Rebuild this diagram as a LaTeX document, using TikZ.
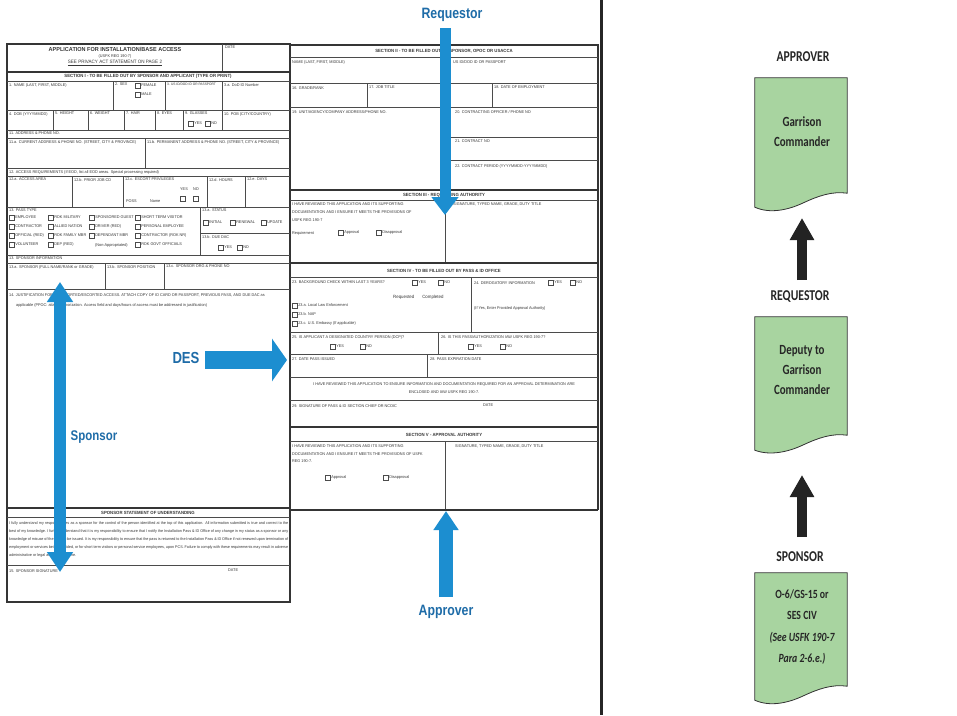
\documentclass[tikz,border=0pt]{standalone}
\usepackage{fontspec}
\setmainfont{Liberation Sans}
\newfontfamily\formfont[FakeStretch=0.95]{Liberation Sans}
\newfontfamily\lblfont[FakeStretch=0.82]{Liberation Sans}
\newfontfamily\calfont[FakeStretch=0.78]{Carlito}
\usetikzlibrary{arrows.meta}
\definecolor{formline}{RGB}{75,75,75}
\definecolor{formtext}{RGB}{55,55,55}
\definecolor{bluearrow}{RGB}{28,142,208}
\definecolor{bluetext}{RGB}{30,108,168}
\definecolor{boxgreen}{RGB}{168,212,160}
\definecolor{darkarrow}{RGB}{35,35,35}
\newcount\tcnt
\newcommand\fl[3]{\global\advance\tcnt by1 \node[ft] (f\the\tcnt) at (#1,#2) {#3};}
\newcommand\fc[3]{\global\advance\tcnt by1 \node[ftc] (f\the\tcnt) at (#1,#2) {#3};}
\newcommand\fb[3]{\global\advance\tcnt by1 \node[ftb] (f\the\tcnt) at (#1,#2) {#3};}
\newcommand\cb[3]{\global\advance\tcnt by1 \node[cbox] (c\the\tcnt) at (#1,#2) {};
  \node[ft,anchor=west] (l\the\tcnt) at ([xshift=1pt]c\the\tcnt.east) {#3};}
\tikzset{
  ft/.style={font=\formfont\fontsize{4.0}{4.6}\selectfont, text=formtext, inner sep=0pt, anchor=north west},
  ftc/.style={ft, anchor=center},
  ftb/.style={ftc, font=\formfont\bfseries\fontsize{4.5}{5}\selectfont},
  fline/.style={draw=formline, line width=0.7pt},
  fthick/.style={draw=formline!70!black, line width=1.2pt},
  cbox/.style={draw=formline, line width=0.55pt, minimum size=4.5pt, inner sep=0pt, anchor=north west},
  bluelbl/.style={font=\lblfont\bfseries\fontsize{15}{18}\selectfont, text=bluetext, inner sep=0pt},
  hdr/.style={font=\calfont\bfseries\fontsize{15}{17}\selectfont, text=black!85, inner sep=0pt},
  boxtxt/.style={font=\calfont\bfseries\fontsize{14}{20}\selectfont, align=center, text=black!85, inner sep=0pt},
  docfill/.style={fill=boxgreen, draw=black!80, line width=0.8pt},
  blackarr/.style={draw=darkarrow, line width=10pt, -{Triangle[width=23pt,length=22pt]}},
}
\begin{document}
\begin{tikzpicture}[x=1pt,y=-1pt]
\path[use as bounding box, fill=white] (0,0) rectangle (957,715);

% ================= LEFT HALF OF FORM =================
\draw[fthick] (7,44) rectangle (290,602);
\node[ftc, font=\formfont\bfseries\fontsize{5.8}{6}\selectfont] (title) at (115,49) {APPLICATION FOR INSTALLATION/BASE ACCESS};
\fc{115}{56}{(USFK REG 190-7)}
\fc{115}{63}{\fontsize{4.8}{5}\selectfont\underline{SEE PRIVACY ACT STATEMENT ON PAGE 2}}
\draw[fline] (222,44) -- (222,72);
\fl{225}{46}{DATE}
\draw[fthick] (7,72) -- (290,72);
\fb{148}{76.5}{SECTION I - TO BE FILLED OUT BY SPONSOR AND APPLICANT (TYPE OR PRINT)}
\draw[fline] (7,81) -- (290,81);
% row 1
\foreach \x in {113,165,222} \draw[fline] (\x,81) -- (\x,110);
\fl{9}{83}{1. NAME (LAST, FIRST, MIDDLE)}
\fl{115}{83}{2. SEX}
\cb{135}{83}{FEMALE}
\cb{135}{92}{MALE}
\fl{167}{83}{\fontsize{3.4}{4}\selectfont 3. US ID/DOD ID OR PASSPORT}
\fl{224}{83}{3.a. DoD ID Number}
\draw[fline] (7,110) -- (290,110);
% row 2
\foreach \x in {53,88,124,155,183,222} \draw[fline] (\x,110) -- (\x,130);
\fl{9}{112}{4. DOB (YYYYMMDD)}
\fl{55}{112}{5. HEIGHT}
\fl{90}{112}{6. WEIGHT}
\fl{126}{112}{7. HAIR}
\fl{157}{112}{8. EYES}
\fl{185}{112}{9. GLASSES}
\cb{188}{121}{YES}
\cb{205}{121}{NO}
\fl{224}{112}{10. POB (CITY/COUNTRY)}
\draw[fline] (7,130) -- (290,130);
\fl{9}{132}{11. ADDRESS \& PHONE NO.}
\draw[fline] (7,138) -- (290,138);
\draw[fline] (145,138) -- (145,168);
\fl{9}{140}{11.a. CURRENT ADDRESS \& PHONE NO. (STREET, CITY \& PROVINCE)}
\fl{147}{140}{11.b. PERMANENT ADDRESS \& PHONE NO. (STREET, CITY \& PROVINCE)}
\draw[fline] (7,168) -- (290,168);
\fl{9}{170}{12. ACCESS REQUIREMENTS (If EOD, list all EOD areas. Special processing required)}
\draw[fline] (7,176) -- (290,176);
% row 4
\foreach \x in {72,123,207,245} \draw[fline] (\x,176) -- (\x,207);
\fl{9}{178}{12.a. ACCESS AREA}
\fl{74}{178}{12.b. PRIOR JOB CD}
\fl{125}{178}{12.c. ESCORT PRIVILEGES}
\fl{180}{188}{YES}
\fl{193}{188}{NO}
\node[cbox] (esc1) at (180,196) {};
\node[cbox] (esc2) at (193,196) {};
\fl{126}{200}{POSS}
\fl{150}{200}{Name}
\fl{209}{178}{12.d. HOURS}
\fl{247}{178}{12.e. DAYS}
\draw[fline] (7,207) -- (290,207);
% row 5 pass type
\draw[fline] (200,207) -- (200,255);
\draw[fline] (200,233) -- (290,233);
\fl{9}{209}{13. PASS TYPE}
\cb{9}{215}{EMPLOYEE}
\cb{9}{224}{CONTRACTOR}
\cb{9}{233}{OFFICIAL (RED)}
\cb{9}{242}{VOLUNTEER}
\cb{48}{215}{ROK MILITARY}
\cb{48}{224}{ALLIED NATION}
\cb{48}{233}{ROK FAMILY MBR}
\cb{48}{242}{DEP (RED)}
\cb{89}{215}{SPONSORED GUEST}
\cb{89}{224}{DRIVER (RED)}
\cb{89}{233}{DEPENDANT MBR}
\fl{95}{243}{(Non-Appropriated)}
\cb{135}{215}{SHORT TERM VISITOR}
\cb{135}{224}{PERSONAL EMPLOYEE}
\cb{135}{233}{CONTRACTOR (ROK NR)}
\cb{135}{242}{ROK GOVT OFFICIALS}
\fl{202}{209}{13.a. STATUS}
\cb{203}{220}{INITIAL}
\cb{230}{220}{RENEWAL}
\cb{261}{220}{UPDATE}
\fl{202}{235}{13.b. DUE DAC}
\cb{218}{245}{YES}
\cb{237}{245}{NO}
\draw[fline] (7,255) -- (290,255);
\fl{9}{257}{13. SPONSOR INFORMATION}
\draw[fline] (7,263) -- (290,263);
\foreach \x in {105,164} \draw[fline] (\x,263) -- (\x,289);
\fl{9}{265}{13.a. SPONSOR (FULL NAME/RANK or GRADE)}
\fl{107}{265}{13.b. SPONSOR POSITION}
\fl{166}{265}{13.c. SPONSOR ORG \& PHONE NO}
\draw[fline] (7,289) -- (290,289);
\fl{9}{293}{14. JUSTIFICATION FOR UNESCORTED/ESCORTED ACCESS. ATTACH COPY OF ID CARD OR PASSPORT, PREVIOUS PASS, AND DUE DAC as}
\fl{16}{303}{applicable (PPOC: attach authorization. Access field and days/hours of access must be addressed in justification)}
\draw[fthick] (7,508) -- (290,508);
\fb{148}{512.5}{SPONSOR STATEMENT OF UNDERSTANDING}
\draw[fline] (7,517) -- (290,517);
\node[ft, text width=279pt, align=justify, font=\formfont\fontsize{3.9}{8}\selectfont] (stmt) at (9,521)
 {I fully understand my responsibilities as a sponsor for the control of the person identified at the top of this application. All information submitted is true and correct to the best of my knowledge. I further understand that it is my responsibility to ensure that I notify the Installation Pass \& ID Office of any change in my status as a sponsor or any knowledge of misuse of the pass to be issued. It is my responsibility to ensure that the pass is returned to the Installation Pass \& ID Office if not renewed upon termination of employment or services being provided, or for short term visitors or personal service employees, upon PCS. Failure to comply with these requirements may result in adverse administrative or legal action against me.};
\draw[fline] (7,565) -- (290,565);
\fl{9}{569}{15. SPONSOR SIGNATURE}
\fl{228}{569}{DATE}

% ================= RIGHT HALF OF FORM =================
\draw[fthick] (290,45) -- (598,45) -- (598,510);
\fb{444}{51}{SECTION II - TO BE FILLED OUT BY SPONSOR, OPOC OR USACCA}
\draw[fline] (290,57) -- (598,57);
\draw[fline] (445,57) -- (445,83);
\fl{292}{60}{NAME (LAST, FIRST, MIDDLE)}
\fl{453}{60}{US ID/DOD ID OR PASSPORT}
\draw[fline] (290,83) -- (598,83);
\draw[fline] (367,83) -- (367,107);
\draw[fline] (492,83) -- (492,107);
\fl{292}{86}{16. GRADE/RANK}
\fl{369}{86}{17. JOB TITLE}
\fl{494}{86}{18. DATE OF EMPLOYMENT}
\draw[fline] (290,107) -- (598,107);
\draw[fline] (450,107) -- (450,190);
\fl{292}{110}{19. UNIT/AGENCY/COMPANY ADDRESS/PHONE NO.}
\fl{455}{110}{20. CONTRACTING OFFICER / PHONE NO}
\draw[fline] (450,137) -- (598,137);
\fl{455}{140}{21. CONTRACT NO}
\draw[fline] (450,160) -- (598,160);
\fl{455}{164}{22. CONTRACT PERIOD (YYYYMMDD-YYYYMMDD)}
\draw[fthick] (290,190) -- (598,190);
\fb{444}{195.5}{SECTION III - REQUESTING AUTHORITY}
\draw[fline] (290,200) -- (598,200);
\draw[fline] (445,200) -- (445,263);
\fl{292}{203}{I HAVE REVIEWED THIS APPLICATION AND ITS SUPPORTING}
\fl{292}{211}{DOCUMENTATION AND I ENSURE IT MEETS THE PROVISIONS OF}
\fl{292}{219}{USFK REG 190-7}
\fl{292}{231}{Requirement}
\cb{338}{230}{Approval}
\cb{376}{230}{Disapproval}
\fl{453}{203}{SIGNATURE, TYPED NAME, GRADE, DUTY TITLE}
\draw[fthick] (290,263) -- (598,263);
\fb{444}{271}{SECTION IV - TO BE FILLED OUT BY PASS \& ID OFFICE}
\draw[fline] (290,277) -- (598,277);
\draw[fline] (471,277) -- (471,332);
\fl{292}{281}{23. BACKGROUND CHECK WITHIN LAST 3 YEARS?}
\cb{412}{280}{YES}
\cb{438}{280}{NO}
\fl{393}{295}{\fontsize{4.6}{5}\selectfont Requested\hspace{8pt}Completed}
\cb{292}{303}{23.a. Local Law Enforcement}
\cb{292}{312}{23.b. NAP}
\cb{292}{321}{23.c. U.S. Embassy (If applicable)}
\fl{474}{282}{24. DEROGATORY INFORMATION}
\cb{548}{280}{YES}
\cb{570}{280}{NO}
\fl{474}{306}{(If Yes, Enter Provided Approval Authority)}
\draw[fline] (290,332) -- (598,332);
\draw[fline] (438,332) -- (438,354);
\fl{292}{335}{25. IS APPLICANT A DESIGNATED COUNTRY PERSON (DCP)?}
\cb{330}{344}{YES}
\cb{360}{344}{NO}
\fl{441}{335}{26. IS THIS PASS/AUTHORIZATION IAW USFK REG 190-7?}
\cb{468}{344}{YES}
\cb{500}{344}{NO}
\draw[fline] (290,354) -- (598,354);
\draw[fline] (427,354) -- (427,377);
\fl{292}{357}{27. DATE PASS ISSUED}
\fl{430}{357}{28. PASS EXPIRATION DATE}
\draw[fline] (290,377) -- (598,377);
\fc{444}{384}{I HAVE REVIEWED THIS APPLICATION TO ENSURE INFORMATION AND DOCUMENTATION REQUIRED FOR AN APPROVAL DETERMINATION ARE}
\fc{444}{392}{ENCLOSED AND IAW USFK REG 190-7.}
\draw[fline] (290,400) -- (598,400);
\fl{292}{404}{29. SIGNATURE OF PASS \& ID SECTION CHIEF OR NCOIC}
\fl{483}{404}{DATE}
\draw[fthick] (290,427) -- (598,427);
\fb{444}{435}{SECTION V - APPROVAL AUTHORITY}
\draw[fline] (290,441) -- (598,441);
\draw[fline] (445,441) -- (445,510);
\fl{292}{444}{I HAVE REVIEWED THIS APPLICATION AND ITS SUPPORTING}
\fl{292}{452}{DOCUMENTATION AND I ENSURE IT MEETS THE PROVISIONS OF USFK}
\fl{292}{459}{REG 190-7.}
\cb{325}{475}{Approval}
\cb{383}{475}{Disapproval}
\fl{455}{444}{SIGNATURE, TYPED NAME, GRADE, DUTY TITLE}
\draw[fthick] (290,510) -- (598,510);

% ================= BLUE ARROWS & LABELS =================
\node[bluelbl] (lreq) at (452,15) {Requestor};
\coordinate (rqs) at (445,28);
\coordinate (rqe) at (445,215);
\draw[draw=bluearrow, line width=11pt, -{Triangle[width=26pt,length=18pt]}] (rqs) -- (rqe);

\node[bluelbl, font=\lblfont\bfseries\fontsize{16}{18}\selectfont] (ldes) at (186,358) {DES};
\coordinate (dss) at (205,360);
\coordinate (dse) at (287,360);
\draw[draw=bluearrow, line width=18pt, -{Triangle[width=42pt,length=15pt]}] (dss) -- (dse);

\node[bluelbl, font=\lblfont\bfseries\fontsize{14}{16}\selectfont] (lspo) at (94,437) {Sponsor};
\coordinate (sps) at (60,282);
\coordinate (spe) at (60,572);
\draw[draw=bluearrow, line width=12pt, {Triangle[width=25pt,length=20pt]}-{Triangle[width=25pt,length=20pt]}] (sps) -- (spe);

\node[bluelbl] (lapp) at (446,612) {Approver};
\coordinate (aps) at (446,597);
\coordinate (ape) at (446,511);
\draw[draw=bluearrow, line width=14pt, -{Triangle[width=24pt,length=19pt]}] (aps) -- (ape);

% ================= DIVIDER =================
\coordinate (dvt) at (601,0);
\coordinate (dvb) at (601,715);
\draw[line width=3pt, black!85] (dvt) -- (dvb);

% ================= RIGHT PANEL =================
\node[hdr] (happ) at (803,57) {APPROVER};
\node[inner sep=0, minimum width=92pt, minimum height=129pt] (box1) at (801,142.5) {};
\path[docfill] (box1.north west) -- (box1.north east) -- ([yshift=14pt]box1.south east)
  .. controls (832,191) and (818,196) .. (803,203)
  .. controls (788,210) and (770,214) .. (box1.south west) -- cycle;
\node[boxtxt] (t1) at (802,132) {Garrison\\Commander};

\node[hdr] (hreq) at (800,297) {REQUESTOR};
\node[inner sep=0, minimum width=92pt, minimum height=133pt] (box2) at (801,383.5) {};
\path[docfill] (box2.north west) -- (box2.north east) -- ([yshift=15pt]box2.south east)
  .. controls (832,433) and (818,438) .. (803,445)
  .. controls (788,452) and (770,456) .. (box2.south west) -- cycle;
\node[boxtxt] (t2) at (802,370) {Deputy to\\Garrison\\Commander};

\node[hdr] (hspo) at (800,557) {SPONSOR};
\node[inner sep=0, minimum width=92pt, minimum height=127pt] (box3) at (801,636.5) {};
\path[docfill] (box3.north west) -- (box3.north east) -- ([yshift=14pt]box3.south east)
  .. controls (832,684) and (818,689) .. (803,696)
  .. controls (788,703) and (770,707) .. (box3.south west) -- cycle;
\node[boxtxt, font=\calfont\bfseries\fontsize{12.5}{21.5}\selectfont] (t3) at (802,627) {O-6/GS-15 or\\SES CIV\\\itshape (See USFK 190-7\\\itshape Para 2-6.e.)};

\coordinate (a1s) at (802,280);
\coordinate (a1e) at (802,218);
\draw[blackarr] (a1s) -- (a1e);
\coordinate (a2s) at (802,537);
\coordinate (a2e) at (802,475);
\draw[blackarr] (a2s) -- (a2e);
\end{tikzpicture}
\end{document}
